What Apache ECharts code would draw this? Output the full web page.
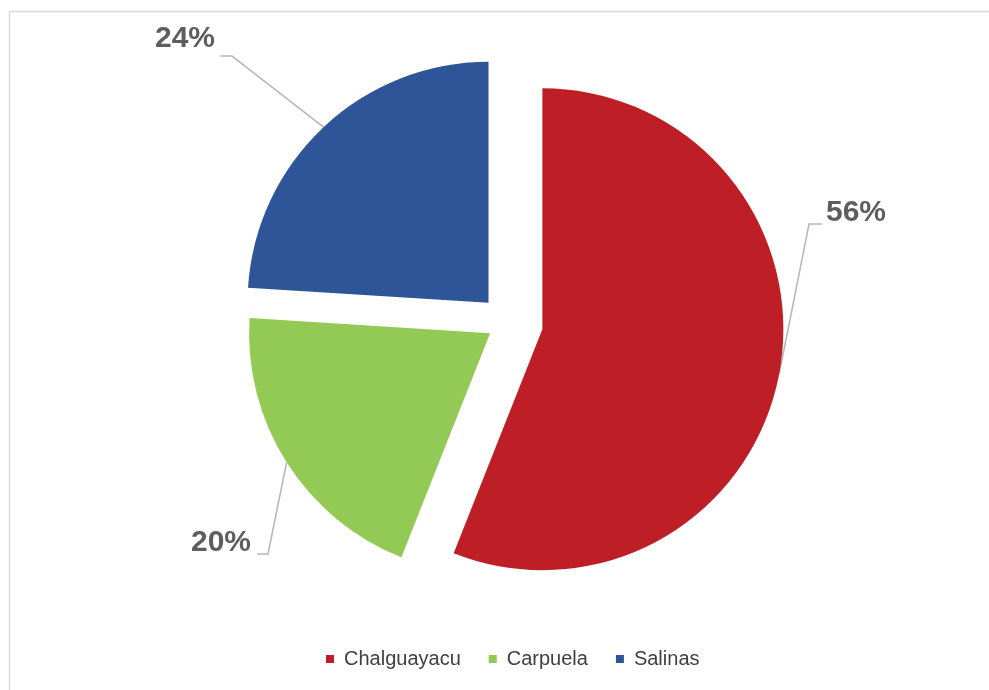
<!DOCTYPE html>
<html>
<head>
<meta charset="utf-8">
<script src="https://cdn.jsdelivr.net/npm/echarts@6/dist/echarts.min.js"></script>
<style>
  html, body { margin: 0; padding: 0; background: #ffffff; }
  #chart { width: 989px; height: 690px; }
</style>
</head>
<body>
<div id="chart"></div>
<script>
// Share of each locality, in percent
const categories = ['Chalguayacu', 'Carpuela', 'Salinas'];
const shares = [56, 20, 24];
const sliceColors = ['#BE1E25', '#93C955', '#2E5597'];

// Pie geometry and how far each slice is pulled out, in px
const pieCenter = [507, 322.5];
const pieRadius = 241;
const explode = [36, 20, 27];

// Where each percentage label sits, and the bend of its leader line
const labelPlacement = [
  { x: 826, y: 213, align: 'left',  bend: [809, 224], end: [822, 224] },
  { x: 251, y: 543, align: 'right', bend: [268, 554], end: [257, 554] },
  { x: 215, y: 39,  align: 'right', bend: [232, 56],  end: [220, 56] }
];

const total = shares.reduce((a, b) => a + b, 0);
let running = 0;
const midAngles = shares.map(v => {
  const m = (running + v / 2) / total * 2 * Math.PI;
  running += v;
  return m;
});

// One pie per slice: all share the same angles, only its own slice is painted,
// and its centre is shifted along the slice bisector to explode it.
const series = categories.map((name, i) => ({
  type: 'pie',
  name: name,
  radius: pieRadius,
  center: [
    pieCenter[0] + explode[i] * Math.sin(midAngles[i]),
    pieCenter[1] - explode[i] * Math.cos(midAngles[i])
  ],
  startAngle: 90,
  clockwise: true,
  avoidLabelOverlap: false,
  emphasis: { disabled: true },
  itemStyle: { borderWidth: 0 },
  label: {
    position: 'outside',
    formatter: '{c}%',
    fontFamily: 'Liberation Sans',
    fontWeight: 'bold',
    fontSize: 30,
    color: '#5e5e5e'
  },
  labelLine: {
    show: true,
    lineStyle: { color: '#b8b8b8', width: 1.6 }
  },
  labelLayout: p => {
    if (p.dataIndex !== i || !p.labelLinePoints) return {};
    const spot = labelPlacement[i];
    return {
      x: spot.x,
      y: spot.y,
      align: spot.align,
      verticalAlign: 'middle',
      labelLinePoints: [p.labelLinePoints[0], spot.bend, spot.end]
    };
  },
  data: categories.map((n, j) => ({
    name: n,
    value: shares[j],
    itemStyle: { color: j === i ? sliceColors[j] : 'rgba(0,0,0,0)' },
    label: { show: j === i },
    labelLine: { show: j === i }
  }))
}));

const chart = echarts.init(document.getElementById('chart'), null, { renderer: 'canvas' });
chart.setOption({
  backgroundColor: '#ffffff',
  animation: false,
  graphic: [{
    type: 'rect',
    silent: true,
    z: -1,
    shape: { x: 9.5, y: 11.5, width: 1000, height: 700 },
    style: { fill: 'none', stroke: '#d9d9d9', lineWidth: 1.5 }
  }],
  legend: {
    left: 326,
    top: 649,
    padding: 0,
    icon: 'rect',
    itemWidth: 8,
    itemHeight: 8,
    itemGap: 28,
    selectedMode: false,
    textStyle: {
      fontFamily: 'Liberation Sans',
      fontSize: 20,
      color: '#404040',
      padding: [0, 0, 0, 5]
    },
    data: categories.map((n, i) => ({ name: n, itemStyle: { color: sliceColors[i] } }))
  },
  series: series
});
</script>
</body>
</html>
